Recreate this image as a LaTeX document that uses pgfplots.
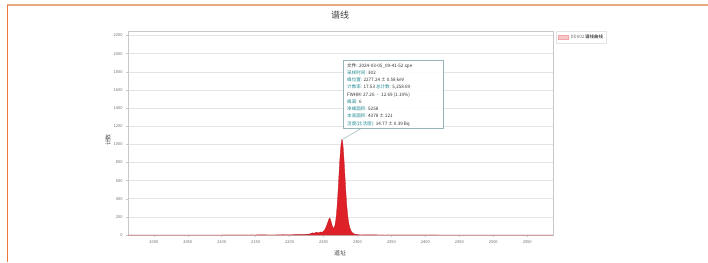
\documentclass[border=0pt]{standalone}
\usepackage{pgfplots}
\pgfplotsset{compat=1.18}
\usepackage{fontspec}
\setmainfont{Noto Sans CJK SC}
\definecolor{framet}{RGB}{232,168,130}
\definecolor{framel}{RGB}{236,120,60}
\definecolor{specred}{RGB}{222,32,40}
\definecolor{tickgray}{RGB}{110,110,110}
\definecolor{axgray}{RGB}{200,200,200}
\definecolor{gridgray}{RGB}{228,228,228}
\definecolor{tipteal}{RGB}{40,140,150}
\definecolor{tipborder}{RGB}{150,180,185}
\begin{document}
\begin{tikzpicture}[x=1bp,y=1bp]
\useasboundingbox (0,0) rectangle (708,262);
\fill[white] (0,0) rectangle (708,262);
\draw[color=framet, line width=1.3bp] (7,257) -- (708,257);
\draw[color=framel, line width=1.3bp] (7.5,0) -- (7.5,257);
\begin{axis}[
  at={(128bp,27bp)}, anchor=south west,
  scale only axis, width=425bp, height=204bp,
  xmin=1962, xmax=2588, ymin=0, ymax=2250,
  xtick={2000,2050,...,2550},
  ytick={0,200,...,2200},
  /pgf/number format/assume math mode=true,
  /pgf/number format/set thousands separator={},
  ticklabel style={font=\fontsize{4}{5}\selectfont, text=tickgray},
  tick align=outside, major tick length=2bp,
  tick style={axgray, line width=0.4bp},
  axis line style={axgray, line width=0.6bp},
  ymajorgrids, grid style={gridgray, line width=0.5bp},
  xtick pos=bottom, ytick pos=left,
  legend style={at={(1.008,1.0)}, anchor=north west, draw=gridgray, line width=0.4bp,
    font=\fontsize{4.5}{5}\selectfont, inner sep=1.5bp, row sep=0pt,
    legend image post style={scale=0.6, fill=specred!25, draw=specred!40}},
  legend cell align=left,
]
\addplot[fill=specred, draw=specred!85!black, line width=0.3bp, area legend] coordinates {
(1962,0) (2100,0) (2120,1) (2140,0) (2160,2) (2175,0) (2190,3) (2200,2) (2210,5) (2218,4)
(2225,6) (2228,8) (2230,12) (2232,18) (2234,24) (2236,19) (2238,26) (2240,31) (2242,22)
(2244,28) (2246,34) (2248,30) (2250,42) (2252,60) (2254,92) (2256,132) (2257,155) (2258,175)
(2259,188) (2260,178) (2261,150) (2262,122) (2263,98) (2264,82) (2265,72) (2266,88)
(2267,112) (2268,160) (2269,230) (2270,320) (2271,430) (2272,560) (2273,700) (2274,830)
(2275,940) (2276,1010) (2277,1055) (2278,1040) (2279,960) (2280,850) (2281,720) (2282,590)
(2283,460) (2284,350) (2285,262) (2286,190) (2287,140) (2288,100) (2289,75) (2290,55)
(2291,40) (2292,30) (2293,22) (2294,16) (2295,12) (2297,8) (2299,5) (2302,3) (2305,1)
(2320,2) (2340,0) (2400,1) (2420,0) (2588,0)
} \closedcycle;
\addlegendentry{\textcolor{tickgray}{DD002} 谱线曲线}
\coordinate (pk) at (axis cs:2278,1055);
\end{axis}
% title and axis labels
\node[font=\fontsize{9}{10}\selectfont, text=black!75] at (340,247) {谱线};
\node[font=\fontsize{6}{7}\selectfont, text=black!70, rotate=90] at (108,122) {计数};
\node[font=\fontsize{6}{7}\selectfont, text=black!70] at (340,9) {道址};
% tooltip
\draw[tipborder, line width=0.5bp] (pk) -- (362,134);
\draw[tipborder, fill=white, fill opacity=0.92, line width=0.5bp] (343,134) rectangle (443,202);
\node[anchor=north west, inner sep=0pt, align=left, font=\fontsize{4.6}{7.3}\selectfont, text=black!80] at (347,199) {%
文件: 2024-03-05\_09-41-52.spe\\
\textcolor{tipteal}{采样时间:} 302\\
\textcolor{tipteal}{峰位置:} 2277.24 ± 0.58 keV\\
\textcolor{tipteal}{计数率:} 17.53 \textcolor{tipteal}{总计数:} 5,258.69\\
FWHM: 27.26 · 12.69 (1.19\%)\\
\textcolor{tipteal}{峰高:} 6\\
\textcolor{tipteal}{净峰面积:} 5258\\
\textcolor{tipteal}{本底面积:} 4378 ± 121\\
\textcolor{tipteal}{活度(比活度):} 14.77 ± 0.39 Bq};
\end{tikzpicture}
\end{document}
